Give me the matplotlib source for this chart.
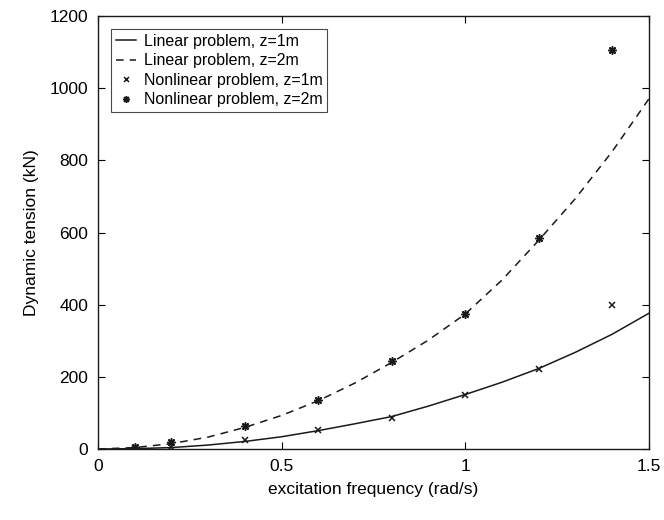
import matplotlib
matplotlib.use("Agg")
import matplotlib.pyplot as plt

plt.rcParams['font.family'] = ['Liberation Sans', 'DejaVu Sans']

# linear solution curves
freq_curve = [0.0, 0.1, 0.2, 0.3, 0.4, 0.5, 0.6, 0.7, 0.8,
              0.9, 1.0, 1.1, 1.2, 1.3, 1.4, 1.5]
lin_z1 = [0, 1, 4, 11, 21, 34, 51, 70, 90,
          119, 151, 185, 223, 268, 318, 376]
lin_z2 = [0, 4, 15, 33, 60, 93, 134, 183, 240,
          302, 374, 468, 578, 694, 824, 970]

# nonlinear results
freq_pts = [0.1, 0.2, 0.4, 0.6, 0.8, 1.0, 1.2, 1.4]
nonlin_z1 = [2, 6, 24, 53, 87, 151, 222, 400]
nonlin_z2 = [5, 19, 64, 137, 244, 374, 586, 1105]

ink = '#1a1a1a'

fig = plt.figure(figsize=(6.64, 5.2), dpi=100)
ax = fig.add_axes([0.1476, 0.1365, 0.8294, 0.8325])

ax.plot(freq_curve, lin_z1, '-', color=ink, lw=1.1, label='Linear problem, z=1m')
ax.plot(freq_curve, lin_z2, '--', color=ink, lw=1.1, dashes=(5, 4),
        label='Linear problem, z=2m')
ax.plot(freq_pts, nonlin_z1, 'x', color=ink, ms=4.5, mew=1.1,
        label='Nonlinear problem, z=1m')
ax.plot(freq_pts, nonlin_z2, marker=(8, 2, 0), ls='none', color=ink, ms=6,
        mew=1.1, label='Nonlinear problem, z=2m')

ax.set_xlim(0, 1.5)
ax.set_ylim(0, 1200)
ax.set_xticks([0, 0.5, 1, 1.5])
ax.set_xticklabels(['0', '0.5', '1', '1.5'])
ax.set_yticks(range(0, 1201, 200))
ax.tick_params(direction='in', top=True, right=True, labelsize=12.5,
               length=5, width=0.8, pad=7)
for s in ax.spines.values():
    s.set_linewidth(1.0)
    s.set_color(ink)

ax.set_xlabel('excitation frequency (rad/s)', fontsize=12.5, labelpad=6)
ax.set_ylabel('Dynamic tension (kN)', fontsize=12.5, labelpad=8)

leg = ax.legend(loc='upper left', fontsize=11.5, frameon=True, fancybox=False,
                edgecolor=ink, handlelength=1.3, handletextpad=0.45,
                labelspacing=0.28, borderpad=0.3, borderaxespad=0.8,
                markerscale=0.8)
leg.get_frame().set_linewidth(0.8)

fig.savefig('out.png', dpi=100)
